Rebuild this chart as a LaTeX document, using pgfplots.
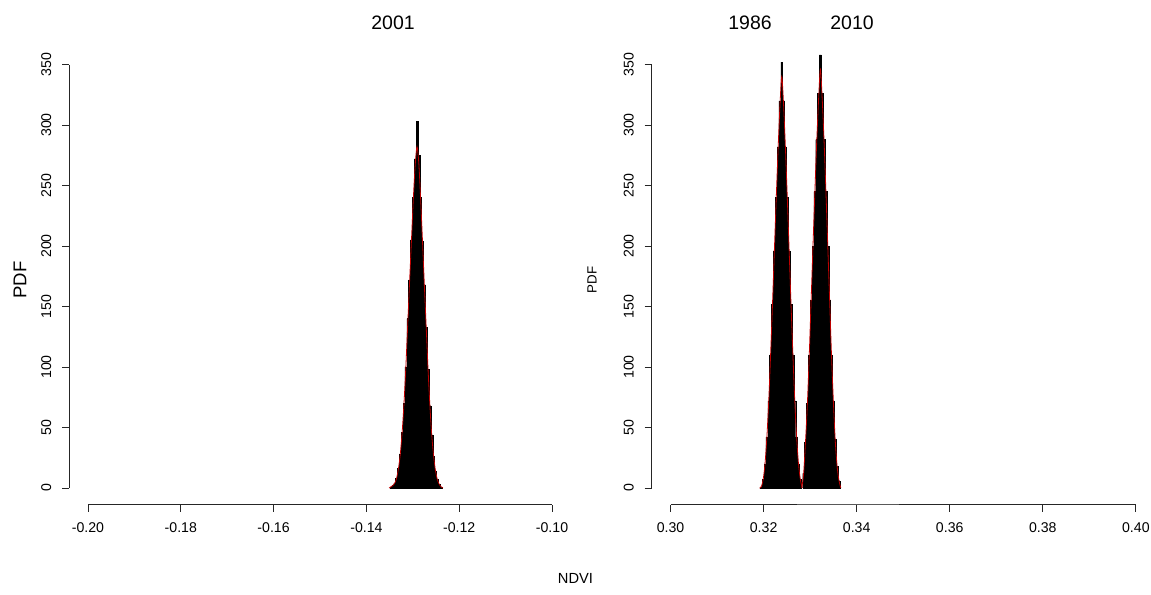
\documentclass[border=0pt]{standalone}
\usepackage{fontspec}
\setmainfont{Liberation Sans}
\usepackage{pgfplots}
\pgfplotsset{compat=1.18}

% R base-graphics look: detached axes, outward ticks, rotated y labels
\pgfplotsset{
  rpanel/.style={
    scale only axis,
    width=348pt, height=317.6pt,
    axis x line*=bottom, axis y line*=left,
    axis x line shift=12.4pt, axis y line shift=14.25pt,
    ymin=0, ymax=350,
    ytick={0,50,100,150,200,250,300,350},
    tick align=outside,
    major tick length=5.25pt,
    tick style={black!85, line width=0.6pt},
    axis line style={black!85, line width=0.6pt, -},
    clip=false,
    scaled x ticks=false,
    /pgf/number format/assume math mode=true,
    xticklabel style={font=\fontsize{10.6}{12}\selectfont,
      /pgf/number format/.cd, fixed, fixed zerofill, precision=2},
    yticklabel style={font=\fontsize{10.6}{12}\selectfont, rotate=90, anchor=south},
    xticklabel shift=5pt,
    yticklabel shift=4.5pt,
  },
  hist/.style={const plot, fill=black, draw=black, line width=0.3pt},
  dens/.style={red!75!black, line width=0.6pt, smooth},
}

\begin{document}
\begin{tikzpicture}
\useasboundingbox (0,0) rectangle (863.25pt,445.5pt);

% ---- left panel: 2001
\begin{axis}[rpanel, at={(66pt,79.5pt)}, anchor=south west,
  xmin=-0.2, xmax=-0.1,
  xtick={-0.20,-0.18,-0.16,-0.14,-0.12,-0.10}]
\addplot[hist] coordinates {
  (-0.1349,1) (-0.1345,2) (-0.1341,4) (-0.1337,8) (-0.1333,16)
  (-0.1329,28) (-0.1325,46) (-0.1321,70) (-0.1317,100) (-0.1313,140)
  (-0.1309,172) (-0.1305,205) (-0.1301,240) (-0.1297,272) (-0.1293,303)
  (-0.1289,275) (-0.1285,240) (-0.1281,204) (-0.1277,168) (-0.1273,133)
  (-0.1269,98) (-0.1265,68) (-0.1261,44) (-0.1257,26) (-0.1253,14)
  (-0.1249,7) (-0.1245,3) (-0.1241,1) (-0.1237,1)
} \closedcycle;
\addplot[dens] coordinates {
  (-0.1351,0) (-0.1347,1) (-0.1343,2) (-0.1339,4) (-0.1335,8) (-0.1331,16)
  (-0.1327,28) (-0.1323,46) (-0.1319,70) (-0.1315,100) (-0.1311,135)
  (-0.1307,170) (-0.1303,204) (-0.1299,238) (-0.1295,266) (-0.1291,282)
  (-0.1287,268) (-0.1283,238) (-0.1279,203) (-0.1275,167) (-0.1271,132)
  (-0.1267,97) (-0.1263,67) (-0.1259,43) (-0.1255,26) (-0.1251,14)
  (-0.1247,7) (-0.1243,3) (-0.1239,1) (-0.1235,0)
};
\end{axis}

% ---- right panel: 1986 and 2010
\begin{axis}[rpanel, at={(502.9pt,79.5pt)}, anchor=south west, width=349pt,
  xmin=0.3, xmax=0.4,
  xtick={0.30,0.32,0.34,0.36,0.38,0.40}]
% 1986
\addplot[hist] coordinates {
  (0.3193,1) (0.3197,7) (0.3201,20) (0.3205,42) (0.3209,72) (0.3213,110)
  (0.3217,152) (0.3221,196) (0.3225,240) (0.3229,282) (0.3233,320)
  (0.3237,352) (0.3241,320) (0.3245,282) (0.3249,240) (0.3253,196)
  (0.3257,152) (0.3261,110) (0.3265,72) (0.3269,42) (0.3273,20)
  (0.3277,7) (0.3281,7)
} \closedcycle;
\addplot[dens] coordinates {
  (0.3191,0) (0.3195,1) (0.3199,7) (0.3203,20) (0.3207,42) (0.3211,72)
  (0.3215,110) (0.3219,151) (0.3223,195) (0.3227,238) (0.3231,279)
  (0.3235,315) (0.3239,340) (0.3243,316) (0.3247,280) (0.3251,239)
  (0.3255,195) (0.3259,151) (0.3263,110) (0.3267,72) (0.3271,42)
  (0.3275,20) (0.3279,7) (0.3283,0)
};
% 2010
\addplot[hist] coordinates {
  (0.3284,12) (0.3288,38) (0.3292,70) (0.3296,110) (0.3300,155) (0.3304,200)
  (0.3308,245) (0.3312,288) (0.3316,326) (0.3320,358) (0.3324,326)
  (0.3328,288) (0.3332,245) (0.3336,200) (0.3340,155) (0.3344,110)
  (0.3348,72) (0.3352,40) (0.3356,18) (0.3360,6) (0.3364,6)
} \closedcycle;
\addplot[dens] coordinates {
  (0.3282,0) (0.3286,12) (0.3290,38) (0.3294,69) (0.3298,109) (0.3302,154)
  (0.3306,199) (0.3310,243) (0.3314,285) (0.3318,320) (0.3322,346)
  (0.3326,321) (0.3330,286) (0.3334,244) (0.3338,199) (0.3342,154)
  (0.3346,109) (0.3350,71) (0.3354,39) (0.3358,18) (0.3362,6) (0.3366,0)
};
% darker stretch seen on the reference x axis line
\draw[black!65, line width=1.2pt] ([yshift=-12.4pt]axis cs:0.3272,0) -- ([yshift=-12.4pt]axis cs:0.3490,0);
\end{axis}

% titles and outer labels
\node[font=\fontsize{14.6}{17}\selectfont] at (294.75pt,428.25pt) {2001};
\node[font=\fontsize{14.6}{17}\selectfont] at (562.5pt,428.25pt) {1986};
\node[font=\fontsize{14.6}{17}\selectfont] at (639pt,428.25pt) {2010};
\node[font=\fontsize{13.9}{16}\selectfont, rotate=90] at (15pt,235.5pt) {PDF};
\node[font=\fontsize{10}{12}\selectfont, rotate=90] at (444pt,235.5pt) {PDF};
\node[font=\fontsize{11}{13}\selectfont] at (431.6pt,12pt) {NDVI};
\end{tikzpicture}
\end{document}
